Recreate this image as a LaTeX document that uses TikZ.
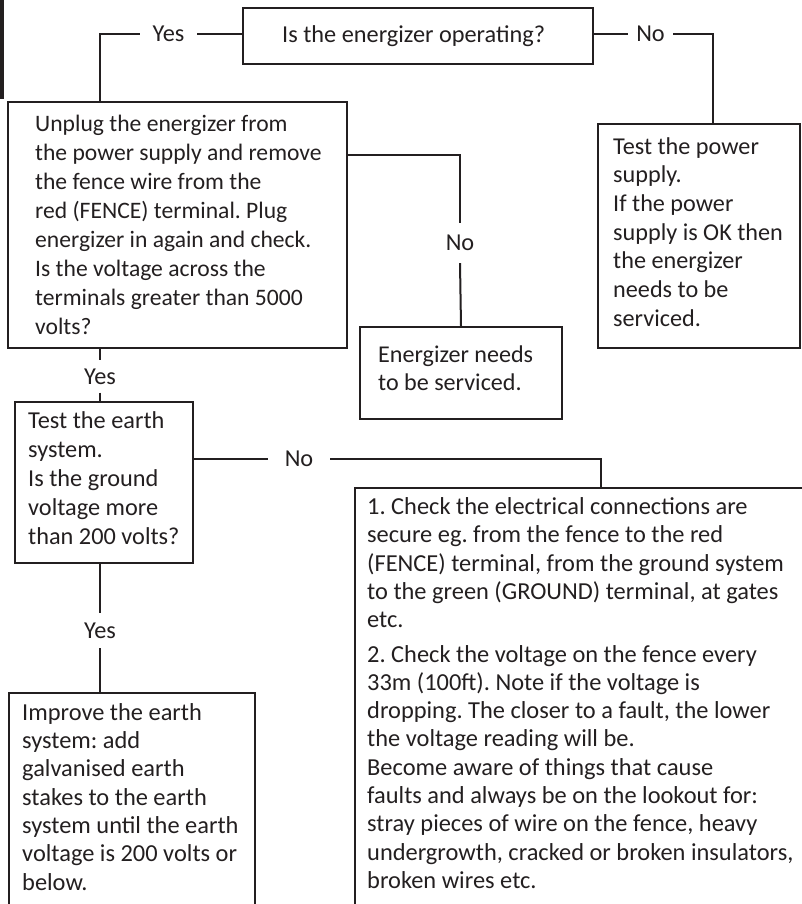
\documentclass[tikz,border=0pt]{standalone}
\usepackage{fontspec}
\setmainfont{Carlito}
\definecolor{ink}{HTML}{231F20}
\begin{document}
\frenchspacing
\begin{tikzpicture}[x=1pt,y=-1pt,
  every node/.style={text=ink},
  box/.style={draw=ink, line width=2pt, anchor=north west, inner sep=0pt, fill=none},
  txt/.style={anchor=north west, inner sep=0pt, align=left, font=\fontsize{24.2}{29}\selectfont\frenchspacing},
  lbl/.style={inner sep=0pt, font=\fontsize{24.3}{29}\selectfont},
  conn/.style={draw=ink, line width=2pt}]
\useasboundingbox (0,0) rectangle (801,904);
\fill[ink] (0,0) rectangle (4,99);
% boxes
\node[box, minimum width=350pt, minimum height=56pt] (q) at (242,7) {};
\node[box, minimum width=339pt, minimum height=246pt] (b2) at (7,101) {};
\node[box, minimum width=202pt, minimum height=224pt] (ps) at (597,123) {};
\node[box, minimum width=202pt, minimum height=92pt] (es) at (359,326) {};
\node[box, minimum width=178pt, minimum height=161pt] (b3) at (14,401) {};
\node[box, minimum width=480pt, minimum height=460pt] (big) at (354,487) {};
\node[box, minimum width=246pt, minimum height=260pt] (b4) at (8,692) {};
% texts
\node[txt, font=\fontsize{24.3}{29}\selectfont] (qt) at (282,21.7) {\strut Is the energizer operating?};
\node[txt, font=\fontsize{23.6}{29.1}\selectfont] (b2t) at (35,110.6) {\strut Unplug the energizer from\\
the power supply and remove\\
the fence wire from the\\
red (FENCE) terminal. Plug\\
energizer in again and check.\\
Is the voltage across the\\
terminals greater than 5000\\
volts?};
\node[txt, font=\fontsize{24.2}{28.7}\selectfont] (pst) at (613,133.9) {\strut Test the power\\
supply.\\
If the power\\
supply is OK then\\
the energizer\\
needs to be\\
serviced.};
\node[txt, font=\fontsize{24.1}{28.7}\selectfont] (est) at (378,341.9) {\strut Energizer needs\\
to be serviced.};
\node[txt, font=\fontsize{24.3}{29}\selectfont] (b3t) at (28,407.7) {\strut Test the earth\\
system.\\
Is the ground\\
voltage more\\
than 200 volts?};
\node[txt, font=\fontsize{24.4}{28.3}\selectfont] (bigt) at (367,494.5) {\strut 1. Check the electrical connections are\\
secure eg. from the fence to the red\\
(FENCE) terminal, from the ground system\\
to the green (GROUND) terminal, at gates\\
etc.\\[6pt]
2. Check the voltage on the fence every\\
33m (100ft). Note if the voltage is\\
dropping. The closer to a fault, the lower\\
the voltage reading will be.\\
Become aware of things that cause\\
faults and always be on the lookout for:\\
stray pieces of wire on the fence, heavy\\
undergrowth, cracked or broken insulators,\\
broken wires etc.};
\node[txt, font=\fontsize{24.4}{28.33}\selectfont] (b4t) at (22,700.2) {\strut Improve the earth\\
system: add\\
galvanised earth\\
stakes to the earth\\
system until the earth\\
voltage is 200 volts or\\
below.};
% labels
\node[lbl, minimum width=57pt] (yes1) at (168.5,34) {Yes};
\node[lbl, minimum width=45pt] (no1) at (650.5,34) {No};
\node[lbl, minimum height=40pt] (no2) at (460,243) {No};
\node[lbl, minimum height=32pt] (yes2) at (100,376.5) {Yes};
\node[lbl, minimum width=62pt] (no3) at (299,459) {No};
\node[lbl, minimum height=35pt] (yes3) at (100,630.5) {Yes};
% connector points
\coordinate (c1) at (100,101);
\coordinate (c2) at (713,123);
\coordinate (c3) at (346,155);
\coordinate (c4) at (100,347);
\coordinate (c5) at (100,401);
\coordinate (c6) at (192,459);
\coordinate (c7) at (601,487);
\coordinate (c8) at (100,562);
\coordinate (c9) at (100,692);
% connectors
\draw[conn] (q.west |- yes1.east) -- (yes1.east);
\draw[conn] (yes1.west) -| (c1);
\draw[conn] (q.east |- no1.west) -- (no1.west);
\draw[conn] (no1.east) -| (c2);
\draw[conn] (c3) -| (no2.north);
\draw[conn] (no2.south) -- (es.north);
\draw[conn] (c4) -- (yes2.north);
\draw[conn] (yes2.south) -- (c5);
\draw[conn] (c6) -- (no3.west);
\draw[conn] (no3.east) -| (c7);
\draw[conn] (c8) -- (yes3.north);
\draw[conn] (yes3.south) -- (c9);
\end{tikzpicture}
\end{document}
